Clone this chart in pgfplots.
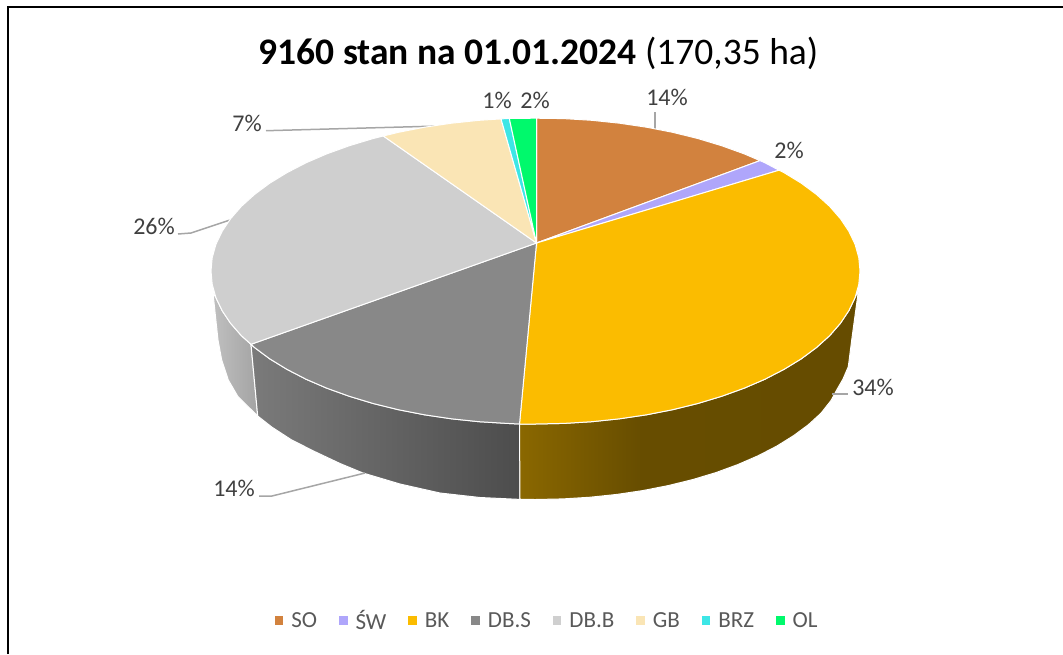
\documentclass[border=0pt]{standalone}
\usepackage{fontspec}
\setmainfont{Carlito}
\usepackage{pgfplots}
\usepackage{pgfplotstable}
\pgfplotsset{compat=1.18}

\definecolor{so}{HTML}{D2823E}
\definecolor{sw}{HTML}{AFA6FB}
\definecolor{bk}{HTML}{FBBC00}
\definecolor{dbs}{HTML}{888888}
\definecolor{dbb}{HTML}{CFCFCF}
\definecolor{gb}{HTML}{FAE5B5}
\definecolor{brz}{HTML}{3DE6E6}
\definecolor{ol}{HTML}{00F96C}
\definecolor{leader}{HTML}{A6A6A6}
\definecolor{labeltxt}{HTML}{404040}
\definecolor{legendtxt}{HTML}{595959}

% side walls, colour runs left to right over the polygon
\pgfdeclarehorizontalshading{bkside}{100bp}{color(0bp)=(bk!55!black); color(25bp)=(bk!55!black); color(43bp)=(bk!41!black); color(100bp)=(bk!40!black)}
\pgfdeclarehorizontalshading{dbsside}{100bp}{color(0bp)=(black!52); color(25bp)=(black!52); color(75bp)=(black!70); color(100bp)=(black!70)}
\pgfdeclarehorizontalshading{dbbside}{100bp}{color(0bp)=(black!25); color(25bp)=(black!25); color(75bp)=(black!36); color(100bp)=(black!36)}

% data labels: pixel position of the text, share in percent
\pgfplotstableread{
x y share
667 97 14
789 150 2
873 387 34
234 488 14
154 226 26
247 123 7
497 100 1
535 100 2
}\labelstable

\begin{document}
\begin{tikzpicture}
\useasboundingbox (0,0) rectangle (1063pt,654pt);
\begin{axis}[
  scale only axis,
  width=1063pt, height=654pt,
  xmin=0, xmax=1063, ymin=0, ymax=654,
  y dir=reverse,
  hide axis,
  title={\bfseries 9160 stan na 01.01.2024 \mdseries(170,35 ha)},
  title style={at={(0.5065,0.909)}, anchor=center, font=\fontsize{37.5}{40}\selectfont, text=black},
  legend columns=-1,
  legend style={at={(0.5138,0.051)}, anchor=center, draw=none, fill=none,
    font=\fontsize{23}{26}\selectfont, text=legendtxt,
    inner sep=0pt, outer sep=0pt,
    /tikz/every even column/.append style={column sep=22pt},
    /tikz/every odd column/.append style={column sep=8pt},
    nodes={inner xsep=0pt, inner ysep=1pt}},
  legend image code/.code={\fill[#1,draw=none] (0pt,-4.25pt) rectangle (8.5pt,4.25pt);},
]
% frame
\addplot[forget plot, black, line width=2pt] coordinates {(8,654) (8,6.5) (1063,6.5)};

% side walls
\addplot[forget plot, shading=dbbside, draw=white, line width=1pt] coordinates {
(251,344.3) (241.4,335.7) (230.6,323.3) (222.1,310.6) (215.9,297.6) (213,293)
(218,340) (221.7,360) (228.3,380) (238,396.7) (257.7,416)
} -- cycle;
\addplot[forget plot, shading=dbsside, draw=white, line width=1pt] coordinates {
(519.5,424) (507.2,423.4) (479.2,421.7) (451.5,418.8) (424.5,414.8) (398.4,409.7) (373.2,403.5)
(349.4,396.3) (326.9,388.2) (306.0,379.2) (286.9,369.3) (269.7,358.8) (254.5,347.5) (251,344.3)
(257.7,416) (271.7,427) (291.7,440) (315,451.7) (340,463.5) (363,473) (400,484) (440,493) (480,497.5) (520,499.4)
} -- cycle;
\addplot[forget plot, shading=bkside, draw=white, line width=1pt] coordinates {
(519.5,424) (535.5,424) (563.8,423.4) (591.8,421.7) (619.5,418.8) (646.5,414.8) (672.6,409.7)
(697.8,403.5) (721.6,396.3) (744.1,388.2) (765.0,379.2) (784.1,369.3) (801.3,358.8) (816.5,347.5)
(829.6,335.7) (840.4,323.3) (848.9,310.6) (855.1,297.6) (858.5,290)
(851.7,340) (848.3,366.7) (843,379) (836.7,390) (831,400.5) (821.0,413.2) (808.3,424.8)
(793.5,435.7) (776.8,446.1) (758.2,455.7) (738.0,464.5) (716.2,472.5) (693.0,479.5) (668.6,485.5)
(643.2,490.5) (617.0,494.4) (590.2,497.2) (563.0,498.9) (535.5,499.5) (520,499.4)
} -- cycle;

% leader lines
\addplot[forget plot, leader, line width=1.5pt] coordinates {(655,112) (655,130)};
\addplot[forget plot, leader, line width=1.5pt] coordinates {(266,130.7) (440,126)};
\addplot[forget plot, leader, line width=1.5pt] coordinates {(178,234) (191,233) (230,220)};
\addplot[forget plot, leader, line width=1.5pt] coordinates {(259,496) (272,496) (365,473)};
\addplot[forget plot, leader, line width=1.5pt] coordinates {(832,394) (848,394)};

% top face, one polygon per slice
\addplot[fill=so, draw=white, line width=1pt] coordinates {
(536.5,243) (536.5,118.2) (563.8,118.6) (591.8,120.3) (619.5,123.2) (646.5,127.2) (672.6,132.3)
(697.8,138.5) (721.6,145.7) (744.1,153.8) (760,160.6)
} -- cycle;
\addplot[fill=sw, draw=white, line width=1pt] coordinates {
(536.5,243) (760,160.6) (765.0,162.8) (779,170.2)
} -- cycle;
\addplot[fill=bk, draw=white, line width=1pt] coordinates {
(536.5,243) (779,170.2) (784.1,172.7) (801.3,183.2) (816.5,194.5) (829.6,206.3) (840.4,218.7)
(848.9,231.4) (855.1,244.4) (858.8,257.7) (860,271) (858.8,284.3) (855.1,297.6) (848.9,310.6)
(840.4,323.3) (829.6,335.7) (816.5,347.5) (801.3,358.8) (784.1,369.3) (765.0,379.2) (744.1,388.2)
(721.6,396.3) (697.8,403.5) (672.6,409.7) (646.5,414.8) (619.5,418.8) (591.8,421.7) (563.8,423.4)
(535.5,424) (519.5,424)
} -- cycle;
\addplot[fill=dbs, draw=white, line width=1pt] coordinates {
(536.5,243) (519.5,424) (507.2,423.4) (479.2,421.7) (451.5,418.8) (424.5,414.8) (398.4,409.7)
(373.2,403.5) (349.4,396.3) (326.9,388.2) (306.0,379.2) (286.9,369.3) (269.7,358.8) (254.5,347.5)
(251,344.3)
} -- cycle;
\addplot[fill=dbb, draw=white, line width=1pt] coordinates {
(536.5,243) (251,344.3) (241.4,335.7) (230.6,323.3) (222.1,310.6) (215.9,297.6) (212.2,284.3)
(211,271) (212.2,257.7) (215.9,244.4) (222.1,231.4) (230.6,218.7) (241.4,206.3) (254.5,194.5)
(269.7,183.2) (286.9,172.7) (306.0,162.8) (326.9,153.8) (349.4,145.7) (373.2,138.5) (383.3,136)
} -- cycle;
\addplot[fill=gb, draw=white, line width=1pt] coordinates {
(536.5,243) (383.3,136) (398.4,132.3) (424.5,127.2) (451.5,123.2) (479.2,120.3) (501,118.9)
} -- cycle;
\addplot[fill=brz, draw=white, line width=1pt] coordinates {
(536.5,243) (501,118.9) (509.3,118.4)
} -- cycle;
\addplot[fill=ol, draw=white, line width=1pt] coordinates {
(536.5,243) (509.3,118.4) (536.5,118.2)
} -- cycle;
\legend{SO, ŚW, BK, DB.S, DB.B, GB, BRZ, OL}

% percentage labels
\addplot[forget plot, draw=none, mark=none, point meta=explicit,
  nodes near coords={\pgfmathprintnumber[fixed,precision=0,assume math mode=true]{\pgfplotspointmeta}\%},
  nodes near coords style={anchor=center, inner sep=0pt, text=labeltxt, font=\fontsize{24}{26}\selectfont}]
  table[x=x, y=y, meta=share] {\labelstable};
\end{axis}
\end{tikzpicture}
\end{document}
